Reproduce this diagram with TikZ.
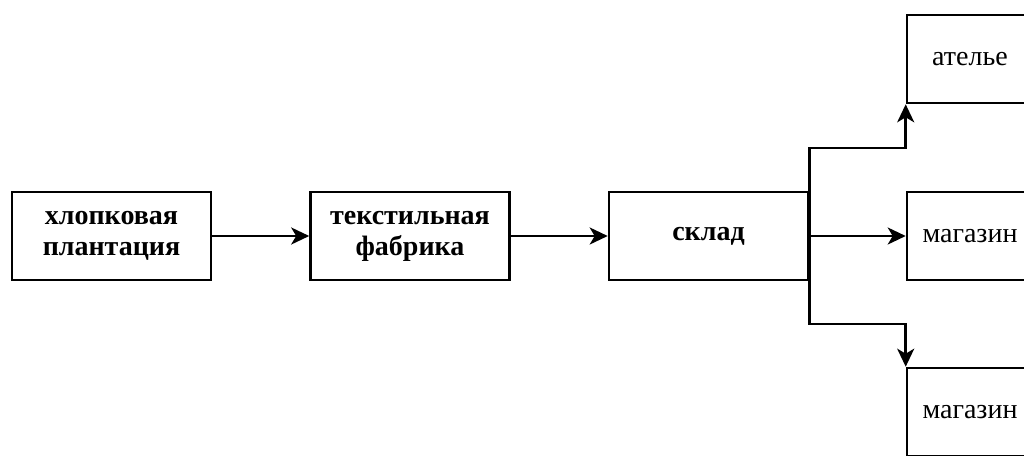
\documentclass[tikz,border=0pt]{standalone}
\usepackage{fontspec}
\setmainfont{Liberation Serif}
\usetikzlibrary{arrows.meta,positioning}
\tikzstyle{block}=[draw,rectangle,line width=2.6pt,minimum width=199pt,
  minimum height=88pt,inner sep=0pt,align=center,
  font=\fontsize{28}{31}\selectfont\bfseries]
\tikzstyle{shop}=[block,minimum width=126pt,font=\fontsize{28}{31}\selectfont]
\tikzstyle{flow}=[->,line width=2.6pt]

\begin{document}
\begin{tikzpicture}[x=1pt, y=1pt, >={Stealth[length=18pt,width=17pt,inset=5pt]},
    node distance=298.5pt, on grid]
  \useasboundingbox (0,0) rectangle (1024,-455);
  \clip (0,0) rectangle (1024,-455);

  \node[block] (plantation) at (111.5,-236) {хлопковая\\плантация};
  \node[block, right=of plantation] (factory) {текстильная\\фабрика};
  \node[block, right=of factory] (warehouse) {склад};

  \node[shop, right=261.5pt of warehouse] (shop) {магазин};
  \node[shop, above=177pt of shop] (atelier) {ателье};
  \node[shop, below=176pt of shop] (shop2) {магазин};

  \draw[flow] (plantation) -- (factory);
  \draw[flow] (factory) -- (warehouse);
  \draw[flow] (warehouse) -- (shop);
  \draw[flow] (warehouse.east) -- ++(0,88) -| (atelier.south west);
  \draw[flow] (warehouse.east) -- ++(0,-88) -| (shop2.north west);
\end{tikzpicture}
\end{document}
